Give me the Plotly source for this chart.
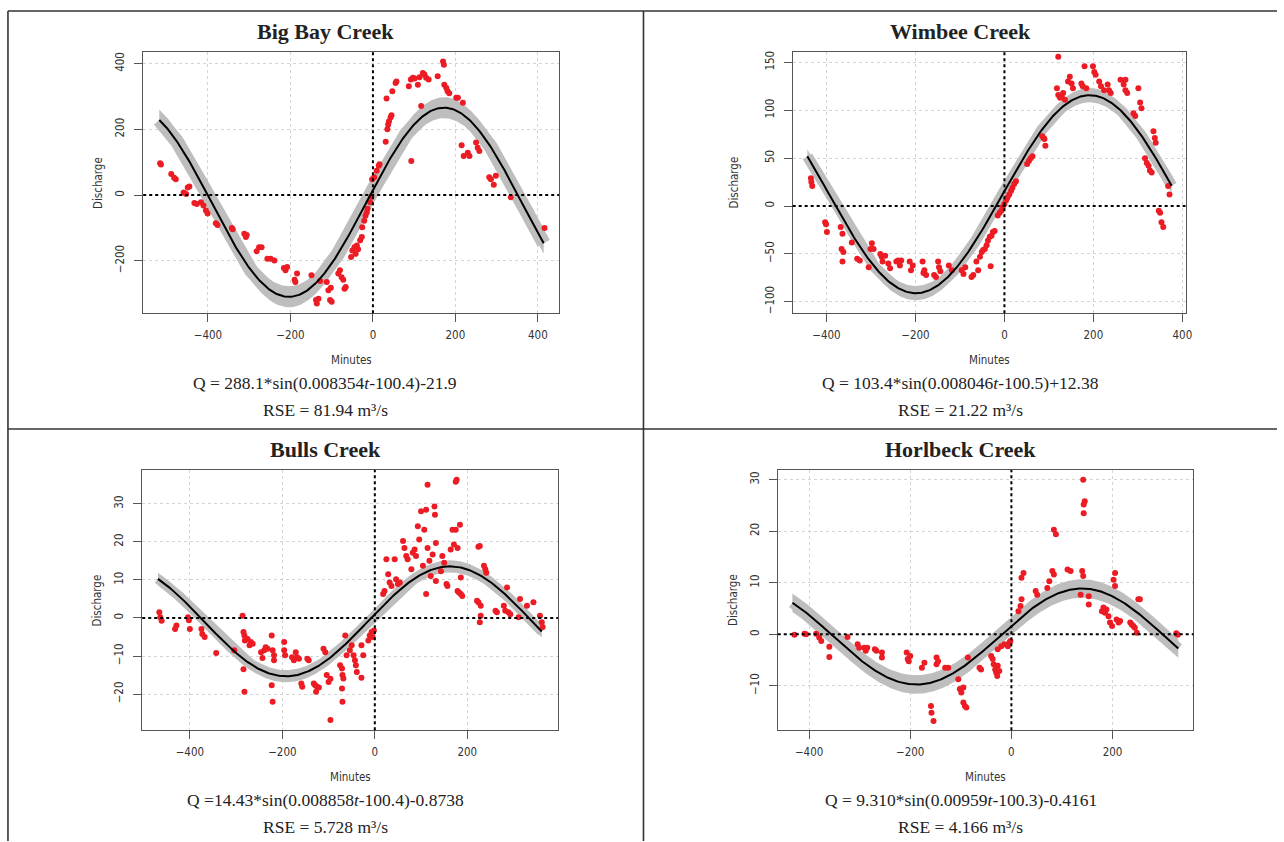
import numpy as np
import plotly.graph_objects as go

W, H = 1284, 842

# ---------------- data ----------------
titles = ["Big Bay Creek", "Wimbee Creek", "Bulls Creek", "Horlbeck Creek"]
equations = [
    "Q = 288.1*sin(0.008354<i>t</i>-100.4)-21.9",
    "Q = 103.4*sin(0.008046<i>t</i>-100.5)+12.38",
    "Q =14.43*sin(0.008858<i>t</i>-100.4)-0.8738",
    "Q = 9.310*sin(0.00959<i>t</i>-100.3)-0.4161",
]
rse_labels = ["RSE = 81.94 m³/s", "RSE = 21.22 m³/s", "RSE = 5.728 m³/s", "RSE = 4.166 m³/s"]

# fitted sine parameters (as printed under each panel)
fit_amp = [288.1, 103.4, 14.43, 9.310]
fit_freq = [0.008354, 0.008046, 0.008858, 0.00959]
fit_phase = [-100.4, -100.5, -100.4, -100.3]
fit_offset = [-21.9, 12.38, -0.8738, -0.4161]
fit_t_start = [-518, -443, -469, -433]
fit_t_end = [414, 376, 361, 330]

x_ticks = [[-400, -200, 0, 200, 400], [-400, -200, 0, 200, 400], [-400, -200, 0, 200], [-400, -200, 0, 200]]
y_ticks = [[-200, 0, 200, 400], [-100, -50, 0, 50, 100, 150], [-20, -10, 0, 10, 20, 30], [-10, 0, 10, 20, 30]]

bigbay_points = [(-516,97),(-514,93),(-489,64),(-482,53),(-478,48),(-459,8),(-453,3),(-449,23),(-445,26),(-433,-24),(-427,-27),(-417,-22),(-411,-32),(-405,-47),(-401,-56),(-381,-86),(-377,-91),(-342,-100),(-340,-104),(-312,-118),(-308,-128),(-306,-122),(-282,-171),(-276,-159),(-270,-159),(-256,-194),(-248,-194),(-239,-199),(-216,-222),(-212,-229),(-208,-219),(-190,-258),(-184,-239),(-188,-265),(-149,-244),(-138,-320),(-136,-330),(-132,-316),(-128,-262),(-112,-265),(-108,-290),(-104,-320),(-100,-325),(-102,-282),(-84,-239),(-80,-229),(-76,-250),(-72,-258),(-69,-285),(-66,-280),(-53,-189),(-50,-169),(-45,-159),(-42,-179),(-39,-154),(-36,-165),(-31,-138),(-27,-128),(-26,-98),(-21,-78),(-18,-63),(-15,-53),(-13,-42),(-7,-22),(-4,-5),(-2,48),(3,54),(9,74),(14,89),(16,94),(31,162),(35,200),(37,215),(39,225),(43,237),(45,243),(33,294),(47,316),(55,341),(57,346),(87,331),(92,352),(97,357),(101,355),(109,336),(113,359),(121,372),(125,367),(129,357),(135,352),(93,104),(117,271),(157,362),(170,407),(172,397),(173,336),(178,326),(181,316),(185,310),(202,296),(206,296),(218,281),(215,152),(220,119),(230,129),(234,119),(250,160),(254,144),(258,134),(282,54),(286,48),(293,31),(298,59),(334,-7),(416,-100)]

wimbee_points = [(-435,29),(-434,25),(-432,21),(-403,-17),(-401,-19),(-399,-27),(-368,-22),(-364,-29),(-366,-45),(-362,-48),(-364,-58),(-343,-38),(-331,-55),(-325,-57),(-305,-64),(-301,-45),(-298,-39),(-294,-45),(-279,-50),(-276,-53),(-274,-58),(-268,-52),(-261,-60),(-257,-65),(-243,-58),(-239,-57),(-235,-62),(-232,-57),(-213,-58),(-210,-67),(-206,-62),(-184,-58),(-180,-67),(-176,-72),(-182,-70),(-158,-72),(-154,-74),(-149,-58),(-147,-64),(-144,-68),(-125,-62),(-118,-67),(-96,-67),(-92,-71),(-88,-64),(-74,-74),(-70,-72),(-59,-67),(-63,-58),(-55,-53),(-51,-48),(-48,-46),(-44,-45),(-40,-41),(-37,-36),(-33,-32),(-29,-31),(-26,-27),(-22,-26),(-31,-63),(-15,-10),(-11,-7),(-7,-5),(-4,-1),(0,2),(4,6),(7,9),(11,12),(15,16),(18,19),(22,23),(26,26),(51,44),(55,47),(59,50),(63,52),(85,73),(88,71),(92,63),(90,70),(121,156),(118,123),(121,116),(125,113),(129,114),(132,118),(136,111),(143,130),(147,135),(151,128),(154,123),(173,128),(176,125),(180,146),(184,123),(199,146),(202,140),(205,137),(213,130),(217,125),(224,121),(232,127),(235,121),(239,118),(261,132),(268,127),(272,121),(276,118),(272,132),(290,97),(294,94),(301,123),(305,108),(308,102),(316,50),(320,45),(324,42),(327,37),(331,35),(335,78),(338,71),(340,66),(347,-5),(350,-7),(353,-17),(357,-22),(368,21),(371,12)]

bulls_points = [(-466,1.5),(-464,0.2),(-461,-0.7),(-432,-2.9),(-429,-2),(-404,0.2),(-402,-0.6),(-400,-2.9),(-375,-2.9),(-373,-4.2),(-368,-5),(-343,-9.2),(-304,-8.5),(-286,0.6),(-284,-3.7),(-282,-4.6),(-281,-5.9),(-284,-13.5),(-282,-19.4),(-275,-5.5),(-271,-7.2),(-268,-6.3),(-264,-6.8),(-246,-9),(-243,-10.5),(-239,-8.5),(-236,-7.7),(-232,-8.1),(-223,-4.6),(-223,-17.7),(-221,-22),(-221,-8.5),(-218,-9.8),(-218,-11.1),(-196,-6.3),(-196,-8.5),(-194,-9.8),(-179,-10.3),(-175,-11.1),(-171,-9),(-168,-10.3),(-164,-10.7),(-159,-17.2),(-157,-18.1),(-146,-10.7),(-143,-11.1),(-132,-17.2),(-129,-17.7),(-127,-19.4),(-125,-18.1),(-121,-18.3),(-111,-8.1),(-107,-9),(-104,-15),(-100,-16.8),(-96,-26.8),(-96,-16),(-75,-12.4),(-71,-13.3),(-70,-15),(-68,-15.9),(-70,-22),(-71,-18.5),(-64,-4.6),(-61,-9.8),(-54,-8.5),(-50,-7.2),(-46,-9.8),(-43,-11.1),(-41,-12.4),(-39,-14.2),(-29,-7.2),(-29,-15.7),(-25,-9.8),(-14,-5.9),(-11,-4.6),(-7,-3.7),(-5,-5),(-2,-3.3),(18,6.3),(21,7.1),(25,15.4),(29,11.5),(32,9.3),(36,8.4),(43,15.4),(46,10.2),(50,8.9),(54,9.3),(61,20.2),(64,18.4),(68,16.3),(71,15.4),(79,12.8),(82,17.1),(86,18),(89,16.3),(93,24.1),(96,20.6),(100,28),(104,13.7),(107,23.2),(111,28.4),(111,6.3),(114,35),(114,18.4),(118,15),(121,11),(125,16.7),(129,29.3),(130,27.1),(132,19.7),(132,9.7),(143,12.3),(146,16.3),(150,14.5),(155,8.9),(157,8.4),(164,18),(168,23.2),(171,19.3),(175,35.8),(177,36.3),(179,18.4),(175,23.2),(179,7.1),(182,6.7),(186,6.3),(184,24.5),(186,10.6),(189,5.8),(221,4.5),(224,18.7),(227,18.9),(224,4.1),(227,-1.1),(229,3.2),(229,0.6),(236,13.7),(239,12.8),(241,11.9),(261,1.9),(264,1.5),(279,3.2),(282,1.9),(286,8),(289,1.5),(293,1),(311,0.2),(314,5),(329,3.2),(343,4.1),(357,0.6),(361,-1.1),(363,-2.4)]

horlbeck_points = [(-429,-0.1),(-409,0.1),(-406,0),(-386,0.1),(-380,-0.6),(-376,-1.3),(-360,-2.4),(-360,-4.4),(-324,-0.5),(-304,-1.9),(-301,-2.6),(-291,-2.6),(-288,-3.2),(-285,-2.6),(-270,-2.9),(-267,-3.2),(-256,-3.5),(-256,-4.5),(-207,-3.5),(-205,-4.8),(-203,-5.2),(-200,-4.2),(-177,-6.5),(-172,-5.5),(-159,-13.9),(-158,-15.2),(-154,-16.8),(-148,-4.5),(-148,-5.8),(-145,-5.2),(-131,-6.5),(-125,-6.5),(-105,-8.7),(-102,-10.6),(-99,-11.3),(-95,-10.3),(-95,-13.2),(-92,-13.9),(-89,-14.2),(-86,-4.5),(-63,-6.5),(-60,-6.8),(-40,-4.2),(-37,-4.8),(-35,-5.8),(-32,-6.8),(-30,-7.4),(-28,-8.1),(-27,-6.1),(-24,-7.1),(-27,-2.9),(-20,-2.3),(-14,-1.9),(-7,-2.3),(-4,-1.6),(-2,-1.3),(14,4.5),(18,5.5),(20,6.8),(20,11),(24,11.9),(48,8.4),(51,7.7),(71,9),(75,10.3),(81,12.3),(84,11.6),(84,20.3),(88,19.4),(111,12.6),(117,12.3),(137,7.7),(140,12.3),(142,11.3),(142,30),(143,25.2),(145,25.8),(143,23.5),(153,7.4),(153,5.8),(179,4.5),(182,5.2),(185,4.2),(188,4.8),(192,3.5),(195,2.3),(199,1.6),(202,10.6),(205,11.9),(205,9.4),(208,2.9),(212,2.3),(215,2.6),(235,2.3),(238,1.9),(241,1.6),(244,1.3),(248,0.3),(251,6.8),(254,6.8),(326,0.2),(329,-0.1)]

all_points = [bigbay_points, wimbee_points, bulls_points, horlbeck_points]

# ---------------- layout (pixels) ----------------
plot_px = [(144, 562, 51, 313), (797, 1192, 51, 313), (143, 561, 470, 731), (782, 1200, 470, 731)]
x_ranges = [(-557, 451), (-476, 407), (-503, 396), (-462, 360)]
y_ranges = [(-360, 436), (-112, 161), (-29.5, 38.9), (-18.6, 31.9)]
band_half = [32, 7.5, 1.6, 1.8]
band_lw = [14, 11, 10, 11]
cell_cx = [327, 966, 327, 966]
title_y = [31, 31, 450, 450]
ylab_x = [98, 738, 98, 737]

def px(x):
    return x / W

def py(y):
    return 1 - y / H

RED = "#ec1c24"
GRAY = "#bebebe"
AXC = "#555555"
TXT = "#333333"
SANS = "Liberation Sans Narrow, DejaVu Sans Condensed, Liberation Sans, Arial, sans-serif"
SERIF = "Liberation Serif, Times New Roman, serif"

fig = go.Figure()
layout = dict(
    width=W, height=H, margin=dict(l=0, r=0, t=0, b=0),
    paper_bgcolor="white", plot_bgcolor="white", showlegend=False,
)
annotations = []
shapes = []

def label(x, y, text, font, angle=0):
    return dict(x=px(x), y=py(y), xref="paper", yref="paper", text=text, showarrow=False,
                xanchor="center", yanchor="middle", textangle=angle, font=font)

for i in range(4):
    k = "" if i == 0 else str(i + 1)
    xa, ya = "x" + k, "y" + k
    L, R, T, B = plot_px[i]

    t = np.linspace(fit_t_start[i], fit_t_end[i], 400)
    q = fit_amp[i] * np.sin(fit_freq[i] * t + fit_phase[i]) + fit_offset[i]

    fig.add_trace(go.Scatter(
        x=np.concatenate([t, t[::-1]]),
        y=np.concatenate([q + band_half[i], (q - band_half[i])[::-1]]),
        fill="toself", fillcolor=GRAY, line=dict(width=0), mode="lines",
        hoverinfo="skip", xaxis=xa, yaxis=ya))
    fig.add_trace(go.Scatter(x=t, y=q, mode="lines", line=dict(color=GRAY, width=band_lw[i]),
                             hoverinfo="skip", xaxis=xa, yaxis=ya))
    pts = all_points[i]
    fig.add_trace(go.Scatter(x=[p[0] for p in pts], y=[p[1] for p in pts], mode="markers",
                             marker=dict(color=RED, size=6, line=dict(width=0)),
                             xaxis=xa, yaxis=ya))
    fig.add_trace(go.Scatter(x=t, y=q, mode="lines", line=dict(color="black", width=2),
                             xaxis=xa, yaxis=ya))

    common = dict(showline=True, mirror=True, linecolor=AXC, linewidth=1.3,
                  ticks="outside", ticklen=8, tickcolor=AXC, tickwidth=1.2,
                  showgrid=True, gridcolor="#d4d4d4", griddash="dot", gridwidth=1,
                  zeroline=False, tickfont=dict(family=SANS, size=11.5, color=TXT))
    layout["xaxis" + k] = dict(common, domain=[px(L), px(R)], range=list(x_ranges[i]),
                               anchor=ya, tickvals=x_ticks[i], ticklabelstandoff=3)
    layout["yaxis" + k] = dict(common, domain=[py(B), py(T)], range=list(y_ranges[i]),
                               anchor=xa, tickvals=y_ticks[i], tickangle=-90, ticklabelstandoff=5)

    shapes.append(dict(type="line", xref=xa, yref=ya + " domain", x0=0, x1=0, y0=0, y1=1,
                       line=dict(color="black", width=2, dash="dot")))
    shapes.append(dict(type="line", xref=xa + " domain", yref=ya, x0=0, x1=1, y0=0, y1=0,
                       line=dict(color="black", width=2, dash="dot")))

    annotations.append(label(cell_cx[i], title_y[i], "<b>" + titles[i] + "</b>",
                             dict(family=SERIF, size=22, color="#222222")))
    annotations.append(label((L + R) / 2, B + 47, "Minutes", dict(family=SANS, size=11.5, color=TXT)))
    annotations.append(label(ylab_x[i], (T + B) / 2, "Discharge", dict(family=SANS, size=11.5, color=TXT), -90))
    annotations.append(label(cell_cx[i], B + 70, equations[i], dict(family=SERIF, size=17.5, color="#222222")))
    annotations.append(label(cell_cx[i], B + 97, rse_labels[i], dict(family=SERIF, size=17.5, color="#222222")))

BORDER = dict(color="#333333", width=1.6)
shapes += [
    dict(type="line", xref="paper", yref="paper", x0=px(8), x1=1, y0=py(10), y1=py(10), line=BORDER),
    dict(type="line", xref="paper", yref="paper", x0=px(8), x1=px(8), y0=py(10), y1=0, line=BORDER),
    dict(type="line", xref="paper", yref="paper", x0=px(647), x1=px(647), y0=py(10), y1=0, line=BORDER),
    dict(type="line", xref="paper", yref="paper", x0=px(8), x1=1, y0=py(429), y1=py(429), line=BORDER),
]

layout["annotations"] = annotations
layout["shapes"] = shapes
fig.update_layout(**layout)
fig.write_html("out.html", config={"displayModeBar": False},
               post_script="document.body.style.margin='0';document.body.style.overflow='hidden';")
